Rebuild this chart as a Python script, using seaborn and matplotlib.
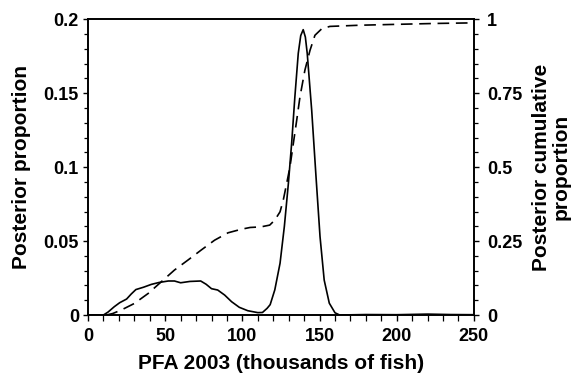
import matplotlib
matplotlib.use("Agg")
import matplotlib.pyplot as plt
import matplotlib.ticker as mticker
import seaborn as sns

# posterior proportion (solid line)
dens_x = [0, 10, 13, 17, 20.5, 25, 28, 31, 36, 41, 46, 52, 56, 60, 66, 73,
          76.5, 80, 84, 88.5, 93, 98, 103.5, 110, 113, 116, 118, 121, 124.4,
          127.2, 129.8, 131.9, 134, 136.2, 137.8, 139.4, 140.8, 142, 144.9,
          147.7, 150.3, 153, 156.3, 160, 163, 180, 200, 220, 235, 250]
dens_y = [0, 0, 0.002, 0.0056, 0.0083, 0.0108, 0.0142, 0.0172, 0.0188,
          0.0207, 0.022, 0.023, 0.023, 0.0218, 0.0227, 0.023, 0.0208, 0.0178,
          0.0169, 0.0135, 0.009, 0.0052, 0.0029, 0.0016, 0.0017, 0.0045,
          0.007, 0.017, 0.035, 0.060, 0.089, 0.116, 0.1475, 0.177, 0.189,
          0.193, 0.188, 0.177, 0.1385, 0.0935, 0.053, 0.0236, 0.008, 0.0015,
          0.0, 0.0003, 0.0002, 0.0006, 0.0003, 0.0002]

# posterior cumulative proportion (dashed line)
cum_x = [0, 12, 16, 21.6, 30, 39, 47.5, 56, 64.8, 73.4, 82, 90.7, 99.3, 105,
         112, 117.7, 121, 124.4, 126.5, 128.7, 130.8, 133, 135.2, 137.3,
         140.5, 143.8, 147, 151.4, 156.7, 176, 200, 225, 250]
cum_y = [0, 0, 0.005, 0.017, 0.039, 0.073, 0.1125, 0.152, 0.186, 0.22, 0.253,
         0.278, 0.29, 0.296, 0.298, 0.304, 0.321, 0.349, 0.389, 0.445, 0.50,
         0.58, 0.659, 0.7375, 0.828, 0.895, 0.946, 0.968, 0.976, 0.980,
         0.983, 0.986, 0.988]

sns.set_style("ticks")
plt.rcParams["font.family"] = ["Liberation Sans", "DejaVu Sans"]
plt.rcParams["font.weight"] = "bold"
plt.rcParams["text.color"] = "black"
plt.rcParams["axes.labelcolor"] = "black"

fig = plt.figure(figsize=(5.76, 3.75), dpi=100)
ax = fig.add_axes([0.1528, 0.16, 0.67, 0.7885])
ax2 = ax.twinx()

sns.lineplot(x=dens_x, y=dens_y, ax=ax, color="black", linewidth=1.2)
sns.lineplot(x=cum_x, y=cum_y, ax=ax2, color="black", linewidth=1.2)
ax2.lines[0].set_dashes((7, 4))

ax.set_xlim(0, 250)
ax.set_ylim(0, 0.2)
ax2.set_ylim(0, 1)

ax.xaxis.set_major_locator(mticker.MultipleLocator(50))
ax.xaxis.set_minor_locator(mticker.MultipleLocator(10))
ax.yaxis.set_major_locator(mticker.MultipleLocator(0.05))
ax.yaxis.set_minor_locator(mticker.MultipleLocator(0.01))
ax2.yaxis.set_major_locator(mticker.MultipleLocator(0.25))
ax2.yaxis.set_minor_locator(mticker.MultipleLocator(0.05))
fmt = mticker.FuncFormatter(lambda v, p: "%g" % round(v, 3))
ax.yaxis.set_major_formatter(fmt)
ax2.yaxis.set_major_formatter(fmt)

for a in (ax, ax2):
    for s in a.spines.values():
        s.set_linewidth(1.2)
        s.set_color("black")
    a.tick_params(which="major", length=3.5, width=1.0, labelsize=13,
                  colors="black", pad=3)
    a.tick_params(which="minor", length=3, width=0.9, colors="black")
ax.tick_params(axis="x", which="both", length=4.5, pad=5)
ax2.tick_params(axis="y", which="major", pad=6)

ax.set_xlabel("PFA 2003 (thousands of fish)", fontsize=15,
              fontweight="bold", labelpad=6)
ax.set_ylabel("Posterior proportion", fontsize=15, fontweight="bold",
              labelpad=9)
ax2.set_ylabel("Posterior cumulative\nproportion", fontsize=15,
               fontweight="bold", labelpad=7, linespacing=1.05)

fig.savefig("out.png", dpi=100)
